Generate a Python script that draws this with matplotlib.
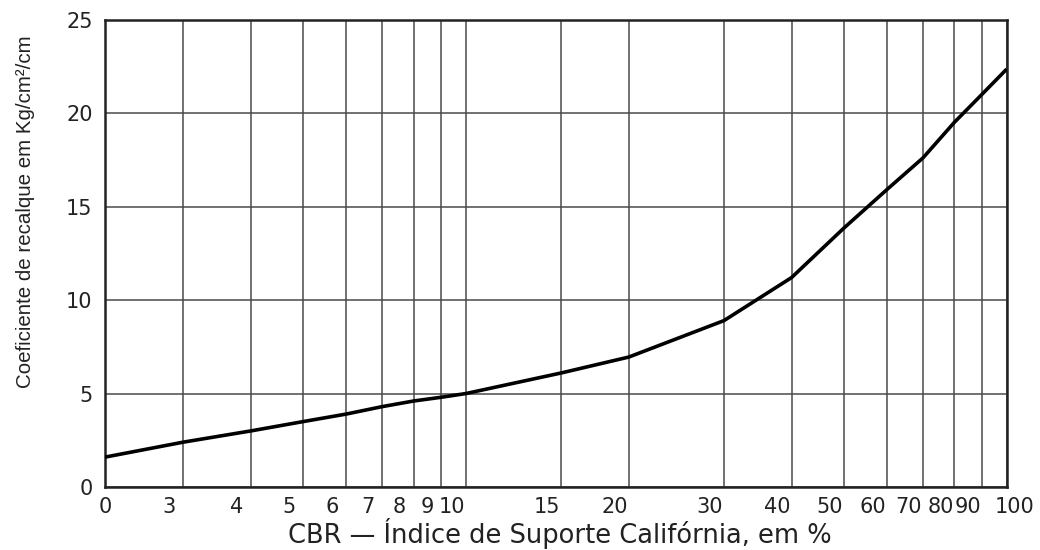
import matplotlib.pyplot as plt
from matplotlib.transforms import ScaledTranslation

plt.rcParams['font.family'] = ['DejaVu Sans']

# CBR (%), 0 means the left edge of the chart
cbr = [0, 3, 4, 5, 6, 7, 8, 9, 10, 15, 20, 30, 40, 50, 60, 70, 80, 90, 100]
coef = [1.6, 2.4, 3.0, 3.5, 3.9, 4.3, 4.6, 4.8, 5.0, 6.1, 6.95, 8.9, 11.2,
        13.85, 15.9, 17.6, 19.5, 21.0, 22.35]

x_ticks = [0, 3, 4, 5, 6, 7, 8, 9, 10, 15, 20, 30, 40, 50, 60, 70, 80, 90, 100]
y_ticks = [0, 5, 10, 15, 20, 25]

# the log axis starts where the printed "0" sits
x_origin = 2.15


def to_axis(v):
    return v if v > 0 else x_origin


fig = plt.figure(figsize=(10.4, 5.5), dpi=100)
ax = fig.add_axes([0.101, 0.1145, 0.867, 0.85])

ax.set_xscale('log')
ax.set_xlim(x_origin, 100)
ax.set_ylim(0, 25)

ax.plot([to_axis(v) for v in cbr], coef, color='black', lw=2.6,
        solid_capstyle='butt', zorder=3)

ax.set_xticks([to_axis(v) for v in x_ticks])
ax.set_xticklabels([str(v) for v in x_ticks])
ax.xaxis.set_minor_locator(plt.NullLocator())
ax.set_yticks(y_ticks)
ax.set_yticklabels([str(v) for v in y_ticks])

ax.grid(True, color='#4a4a4a', lw=1.1)
ax.tick_params(length=0, labelsize=15, colors='#222222')
ax.tick_params(axis='x', pad=7)
ax.tick_params(axis='y', pad=9)

# printed numbers sit a little left of their grid lines in the original
labels = ax.get_xticklabels()
for i, lab in enumerate(labels):
    if i == 0:
        dx = 0
    elif i == len(labels) - 1:
        dx = 8
    else:
        dx = -14
    lab.set_transform(lab.get_transform() +
                      ScaledTranslation(dx / 100, 0, fig.dpi_scale_trans))

for s in ax.spines.values():
    s.set_linewidth(1.8)
    s.set_color('#222222')

ax.set_xlabel('CBR — Índice de Suporte Califórnia, em %', fontsize=18.5,
              color='#222222', va='baseline')
ax.xaxis.set_label_coords(0.504, -0.12)
ax.set_ylabel('Coeficiente de recalque em Kg/cm²/cm', fontsize=14.8,
              color='#222222', family=['Liberation Sans'])
ax.yaxis.set_label_coords(-0.078, 0.588)

fig.savefig('out.png', dpi=100)
